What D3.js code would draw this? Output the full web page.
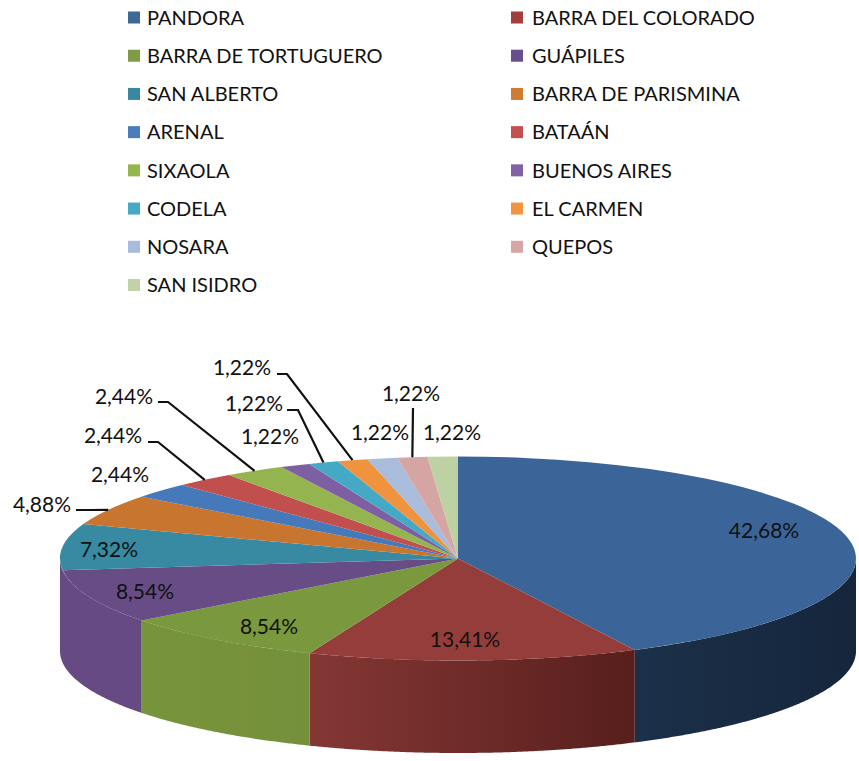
<!DOCTYPE html>
<html><head><meta charset="utf-8">
<script src="https://cdn.jsdelivr.net/npm/d3@7/dist/d3.min.js"></script>
<style>html,body{margin:0;padding:0;background:#fff}svg{display:block}text{font-family:Lato,"Open Sans",sans-serif;fill:#111}</style>
</head><body><div id="c"></div>
<script>
const categories=["PANDORA","BARRA DEL COLORADO","BARRA DE TORTUGUERO","GUÁPILES","SAN ALBERTO","BARRA DE PARISMINA","ARENAL","BATAÁN","SIXAOLA","BUENOS AIRES","CODELA","EL CARMEN","NOSARA","QUEPOS","SAN ISIDRO"];
const values=[42.68,13.41,8.54,8.54,7.32,4.88,2.44,2.44,2.44,1.22,1.22,1.22,1.22,1.22,1.22];
const colors=["#3b6598","#953d3a","#7a983d","#684c86","#378aa1","#c8752f","#4579b9","#c14f4d","#94b44f","#7e60a2","#45a9c5","#f0933f","#a9bcdb","#d5a5a4","#bed1a3"];
const legendColors=["#3f6797","#a23f3e","#7f9b45","#674f8c","#38889f","#d17b31","#4a7dbb","#c4504e","#95b64f","#8061a4","#46aac4","#f39340","#a9bcdc","#d6a6a5","#c0d2a6"];
const wallLeft=["#1b3049","#853734","#78943b","#664a83"];
const wallRight=["#15263c","#571f1d","#75903a","#664a83"];
// label layout: centre of each label, and leader elbow (null when none)
const labelX=[764,465,269,145,109,42,120,113,124,270,254,242,380,411,452];
const labelY=[530,639,626,591,549,504,474,435,396,436,403,367,432,393,432];
const leaderStartX=[null,null,null,null,null,76,null,148,158,null,287,277,null,413,null];
const leaderElbowX=[null,null,null,null,null,90,null,158,168,null,298,287,null,413,null];
const leaderY=[null,null,null,null,null,510,null,442,402,null,410,374,null,408,null];

const W=859,H=761,cx=458,cy=558.5,rx=398,ry=102,depth=92.5;
const svg=d3.select("#c").append("svg").attr("width",W).attr("height",H);
const defs=svg.append("defs");

// legend
const rowY=d3.scaleLinear().domain([0,7]).range([17.5,285]);
const colX=d3.scaleOrdinal().domain([0,1]).range([128,511]);
const legend=svg.append("g").selectAll("g").data(categories).join("g")
  .attr("transform",(d,i)=>`translate(${colX(i%2)},${rowY(Math.floor(i/2))})`);
legend.append("rect").attr("x",0).attr("y",-6).attr("width",12).attr("height",12).attr("fill",(d,i)=>legendColors[i]);
legend.append("text").attr("x",(d,i)=>i%2?21:19).attr("dy","0.36em").attr("font-size",20).text(d=>d);

// pie
const pie=d3.pie().sort(null).value(d=>d);
const arcs=pie(values);
const px=a=>cx+rx*Math.sin(a), py=a=>cy-ry*Math.cos(a);

// front walls: only the four front slices; the last one runs to the leftmost point
const area=d3.area().x(px).y0(py).y1(a=>py(a)+depth);
const lo=Math.PI/2, hi=3*Math.PI/2;
arcs.slice(0,4).forEach((s,i)=>{
  const a0=Math.max(s.startAngle,lo), a1=i===3?hi:s.endAngle;
  const g=defs.append("linearGradient").attr("id","w"+i);
  g.append("stop").attr("offset",0).attr("stop-color",wallLeft[i]);
  g.append("stop").attr("offset",1).attr("stop-color",wallRight[i]);
  svg.append("path").attr("d",area(d3.range(a0,a1,0.005).concat([a1]))).attr("fill",`url(#w${i})`);
});

// top face
const arc=d3.arc().innerRadius(0).outerRadius(rx);
svg.append("g").attr("transform",`translate(${cx},${cy}) scale(1,${ry/rx})`)
  .selectAll("path").data(arcs).join("path")
  .attr("d",arc).attr("fill",(d,i)=>colors[i]);

// leaders
const line=d3.line();
arcs.forEach((s,i)=>{
  if(leaderStartX[i]===null) return;
  const m=(s.startAngle+s.endAngle)/2;
  svg.append("path").attr("fill","none").attr("stroke","#111").attr("stroke-width",2.2)
    .attr("d",line([[leaderStartX[i],leaderY[i]],[leaderElbowX[i],leaderY[i]],[px(m),py(m)]]));
});

// labels
const fmt=v=>v.toFixed(2).replace(".",",")+"%";
svg.append("g").selectAll("text").data(values).join("text")
  .attr("x",(d,i)=>labelX[i]).attr("y",(d,i)=>labelY[i])
  .attr("text-anchor","middle").attr("dy","0.36em").attr("font-size",21).text(fmt);
</script></body></html>
